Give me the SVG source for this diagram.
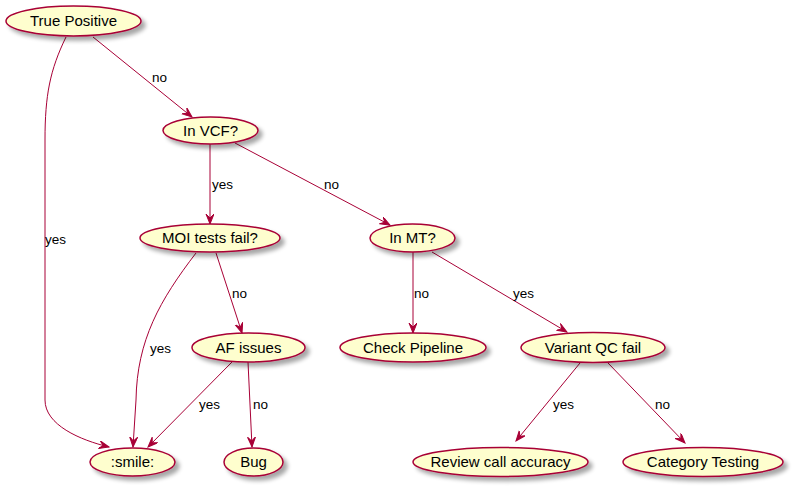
<svg xmlns="http://www.w3.org/2000/svg" width="793" height="493" viewBox="0 0 793 493">
<style>
.n ellipse{fill:#FEFECE;stroke:#A80036;stroke-width:1.5;filter:url(#sh)}
.n text{font-family:"Liberation Sans",Arial,sans-serif;font-size:15px;fill:#000;text-anchor:middle}
.e path{fill:none;stroke:#A80036;stroke-width:1;marker-end:url(#ah)}
.e text{font-family:"Liberation Sans",Arial,sans-serif;font-size:13.5px;fill:#000}
</style>
<defs>
<filter id="sh" x="-20%" y="-40%" width="150%" height="200%">
<feGaussianBlur in="SourceAlpha" stdDeviation="2"/>
<feOffset dx="4" dy="4" result="b"/>
<feComponentTransfer><feFuncA type="linear" slope="0.35"/></feComponentTransfer>
<feMerge><feMergeNode/><feMergeNode in="SourceGraphic"/></feMerge>
</filter>
<marker id="ah" markerUnits="userSpaceOnUse" markerWidth="12" markerHeight="10" refX="10" refY="4" orient="auto" viewBox="0 0 12 10">
<path d="M0,0 L10,4 L0,8 L4,4 Z" fill="#A80036" stroke="#A80036" stroke-width="1"/>
</marker>
</defs>
<g class="e" id="connectors">
<path d="M93,37 L192,117"/><text x="152" y="82">no</text>
<path d="M66,37 C50,70 45,95 45,140 L45,400 C45,425 80,440 109,447"/><text x="45" y="244">yes</text>
<path d="M210,144 L210,224"/><text x="212" y="189">yes</text>
<path d="M235,143 L390,225"/><text x="324" y="189">no</text>
<path d="M196,253 C160,300 137,340 136,400 L133,447"/><text x="150" y="353">yes</text>
<path d="M216,253 L242,333"/><text x="232" y="298">no</text>
<path d="M232,362 L148,447"/><text x="199" y="409">yes</text>
<path d="M248,362 L252,447"/><text x="253" y="409">no</text>
<path d="M413,252 L413,333"/><text x="414" y="298">no</text>
<path d="M432,252 L567,332"/><text x="513" y="298">yes</text>
<path d="M580,363 L516,441"/><text x="553" y="409">yes</text>
<path d="M608,363 L685,443"/><text x="655" y="409">no</text>
</g>
<g class="n" id="true-positive"><ellipse cx="73.5" cy="21" rx="67.5" ry="15"/><text x="73.5" y="26">True Positive</text></g>
<g class="n" id="in-vcf"><ellipse cx="210.5" cy="130.5" rx="47.5" ry="13.5"/><text x="210.5" y="135.5">In VCF?</text></g>
<g class="n" id="moi"><ellipse cx="210" cy="238" rx="70" ry="14"/><text x="210" y="243">MOI tests fail?</text></g>
<g class="n" id="in-mt"><ellipse cx="412.5" cy="238" rx="42.5" ry="14"/><text x="412.5" y="243">In MT?</text></g>
<g class="n" id="af-issues"><ellipse cx="248.5" cy="347.5" rx="56.5" ry="14.5"/><text x="248.5" y="352.5">AF issues</text></g>
<g class="n" id="check-pipeline"><ellipse cx="413" cy="347.5" rx="73" ry="14.5"/><text x="413" y="352.5">Check Pipeline</text></g>
<g class="n" id="variant-qc"><ellipse cx="593" cy="347.5" rx="72" ry="15"/><text x="593" y="352.5">Variant QC fail</text></g>
<g class="n" id="smile"><ellipse cx="132.5" cy="462" rx="42.5" ry="14"/><text x="132.5" y="467">:smile:</text></g>
<g class="n" id="bug"><ellipse cx="253.5" cy="462" rx="29.5" ry="14"/><text x="253.5" y="467">Bug</text></g>
<g class="n" id="review"><ellipse cx="500.5" cy="462" rx="87.5" ry="14.5"/><text x="500.5" y="467">Review call accuracy</text></g>
<g class="n" id="category"><ellipse cx="703" cy="462" rx="80" ry="14.5"/><text x="703" y="467">Category Testing</text></g>
</svg>
